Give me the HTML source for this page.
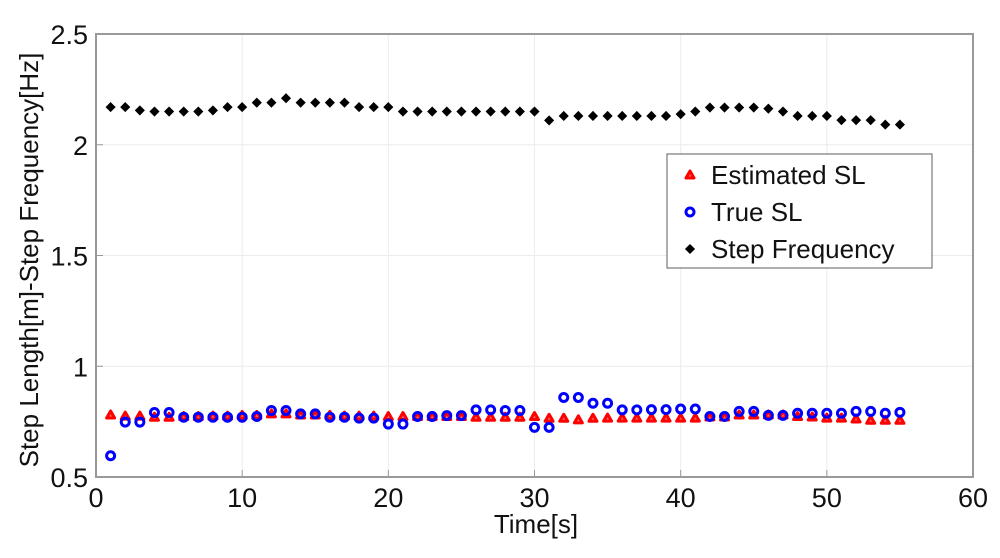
<!DOCTYPE html>
<html><head><meta charset="utf-8"><style>
html,body{margin:0;padding:0;background:#fff;width:1000px;height:558px;overflow:hidden}
svg text{font-family:"Liberation Sans",sans-serif;fill:#111}
</style></head><body>
<svg id="chart" width="1000" height="558" viewBox="0 0 1000 558" xmlns="http://www.w3.org/2000/svg">
<g id="grid"></g>
<g id="axes"></g>
<g id="marks"></g>
<g id="legend"></g>
</svg>
<script>
const times = Array.from({length:55},(_,i)=>i+1);
const stepFreq = [2.17,2.17,2.155,2.15,2.15,2.15,2.15,2.155,2.17,2.17,2.19,2.19,2.21,2.19,2.19,2.19,2.19,2.17,2.17,2.17,2.15,2.15,2.15,2.15,2.15,2.15,2.15,2.15,2.15,2.15,2.11,2.13,2.13,2.13,2.13,2.13,2.13,2.13,2.13,2.138,2.15,2.168,2.168,2.168,2.168,2.163,2.15,2.13,2.13,2.13,2.111,2.111,2.111,2.091,2.091];
const trueSL = [0.596,0.748,0.748,0.791,0.791,0.770,0.770,0.770,0.770,0.770,0.773,0.800,0.800,0.785,0.785,0.770,0.770,0.766,0.766,0.739,0.739,0.773,0.773,0.777,0.777,0.803,0.803,0.800,0.800,0.724,0.724,0.859,0.859,0.833,0.833,0.803,0.803,0.804,0.804,0.807,0.807,0.773,0.773,0.796,0.796,0.778,0.778,0.788,0.788,0.788,0.788,0.796,0.796,0.788,0.792];
const estSL = [0.780,0.775,0.775,0.770,0.770,0.773,0.773,0.775,0.775,0.778,0.778,0.785,0.785,0.780,0.780,0.778,0.775,0.775,0.775,0.773,0.773,0.773,0.773,0.773,0.773,0.770,0.770,0.770,0.770,0.773,0.765,0.765,0.758,0.765,0.766,0.766,0.766,0.766,0.766,0.766,0.766,0.771,0.771,0.780,0.780,0.780,0.780,0.773,0.771,0.766,0.766,0.762,0.756,0.756,0.756];
const xTicks = [0,10,20,30,40,50,60];
const yTicks = [0.5,1,1.5,2,2.5];

const NS="http://www.w3.org/2000/svg";
const X0=96,X1=973,Y0=477,Y1=34;
const xs=v=>X0+(v-0)/60*(X1-X0);
const ys=v=>Y0-(v-0.5)/2*(Y0-Y1);
function mk(tag,attrs,parent){const e=document.createElementNS(NS,tag);for(const k in attrs)e.setAttribute(k,attrs[k]);parent.appendChild(e);return e;}
const grid=document.getElementById('grid'),axes=document.getElementById('axes'),marks=document.getElementById('marks'),legend=document.getElementById('legend');

xTicks.forEach(t=>{
  const x=xs(t);
  if(t>0&&t<60){const g=mk('line',{x1:x,x2:x,y1:Y1,y2:Y0,stroke:'#ececec','stroke-width':1},grid);
  
  }
  const tk=mk('line',{x1:x,x2:x,y1:Y0,y2:Y0-7,stroke:'#999'},axes);
  
  
  const l=mk('text',{x:x,y:507,'font-size':27,'text-anchor':'middle'},axes);l.textContent=t;
  
  
});
yTicks.forEach(t=>{
  const y=ys(t);
  if(t>0.5&&t<2.5){const g=mk('line',{x1:X0,x2:X1,y1:y,y2:y,stroke:'#ececec','stroke-width':1},grid);
  
  }
  const tk=mk('line',{x1:X0,x2:X0+7,y1:y,y2:y,stroke:'#999'},axes);
  
  
  const l=mk('text',{x:X0-8,y:y+10,'font-size':27,'text-anchor':'end'},axes);l.textContent=t;
  
  
});
const box=mk('rect',{x:X0,y:Y1,width:X1-X0,height:Y0-Y1,fill:'none',stroke:'#999','stroke-width':2},axes);


const xl=mk('text',{x:536,y:533,'font-size':26,'text-anchor':'middle'},axes);xl.textContent='Time[s]';


const yl=mk('text',{x:0,y:0,'font-size':26,'text-anchor':'middle',transform:'translate(38,260) rotate(-90)'},axes);yl.textContent='Step Length[m]-Step Frequency[Hz]';



function tri(x,y,parent){return mk('path',{d:`M${x},${y-4} L${x+4},${y+3} L${x-4},${y+3} Z`,fill:'#f66',stroke:'#f00','stroke-width':3,'stroke-linejoin':'round'},parent);}
function circ(x,y,parent){return mk('circle',{cx:x,cy:y,r:4,fill:'none',stroke:'#00f','stroke-width':3},parent);}
function dot(x,y,parent){return mk('path',{d:`M${x},${y-4} L${x+4},${y} L${x},${y+4} L${x-4},${y} Z`,fill:'#000',stroke:'#000','stroke-width':1.5},parent);}

times.forEach((t,i)=>{
  const a=tri(xs(t),ys(estSL[i]),marks);
  
  
});
times.forEach((t,i)=>{
  const b=circ(xs(t),ys(trueSL[i]),marks);
  
  
});
times.forEach((t,i)=>{
  const c=dot(xs(t),ys(stepFreq[i]),marks);
  
  
});

const lb=mk('rect',{x:667,y:154,width:265,height:114,fill:'#fff',stroke:'#777','stroke-width':1.2},legend);


const entries=[['Estimated SL',tri,175],['True SL',circ,212],['Step Frequency',dot,249]];
entries.forEach(([name,fn,y])=>{
  const m=fn(690,y,legend);
  
  
  const t=mk('text',{x:711,y:y+9,'font-size':26},legend);t.textContent=name;
  
  
});
</script>
</body></html>
